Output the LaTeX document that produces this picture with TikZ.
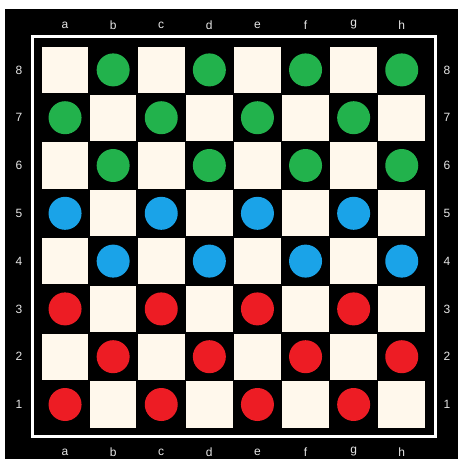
\documentclass[tikz,border=0pt]{standalone}
\usepackage{fontspec}
\setmainfont{Liberation Sans}
\usepackage{tikz}
\usetikzlibrary{
  arrows.meta,
  positioning,
  calc
}
\definecolor{cbCream}{HTML}{FFF8EC}
\definecolor{cbGreen}{HTML}{22B24C}
\definecolor{cbBlue}{HTML}{1AA3E8}
\definecolor{cbRed}{HTML}{ED1C24}
\definecolor{cbLabel}{HTML}{E6E6E6}
\tikzset{
  boardbg/.style={fill=black},
  frameline/.style={draw=white, line width=3pt},
  lightsq/.style={fill=cbCream},
  piece/.style={fill=#1},
  coordlabel/.style={text=cbLabel, font=\fontsize{12}{14}\selectfont, inner sep=0pt}
}

\begin{document}
\begin{tikzpicture}[x=1pt, y=-1pt]
  \useasboundingbox[fill=white] (0,0) rectangle (458,459);
  \fill[boardbg] (5,9) rectangle (458,459);
  \draw[frameline] (32.5,36.5) rectangle (435,436.5);
  % squares and pieces
  \begin{scope}[shift={(41,46)}, x=48.1pt, y=-47.8pt]
    \foreach \r in {0,...,7}{
      \foreach \c in {0,...,7}{
        \ifodd\numexpr\c+\r\relax
          \ifnum\r<3 \def\col{cbGreen}\else\ifnum\r<5 \def\col{cbBlue}\else\def\col{cbRed}\fi\fi
          \fill[piece=\col] (\c+0.5,\r+0.5) circle (16.5pt);
        \else
          \fill[lightsq] (\c+0.015,\r+0.015) rectangle (\c+0.985,\r+0.985);
        \fi
      }
    }
  \end{scope}
  % file and rank labels
  \foreach \c/\file in {0/a,1/b,2/c,3/d,4/e,5/f,6/g,7/h}{
    \node[coordlabel] (top-\file) at (41+48.1*\c+24,25) {\file};
    \node[coordlabel] (bot-\file) at (41+48.1*\c+24,452) {\file};
  }
  \foreach \r in {0,...,7}{
    \pgfmathtruncatemacro{\rank}{8-\r}
    \node[coordlabel] (left-\rank) at (19,46+47.8*\r+24) {\rank};
    \node[coordlabel] (right-\rank) at (447,46+47.8*\r+24) {\rank};
  }
\end{tikzpicture}
\end{document}
